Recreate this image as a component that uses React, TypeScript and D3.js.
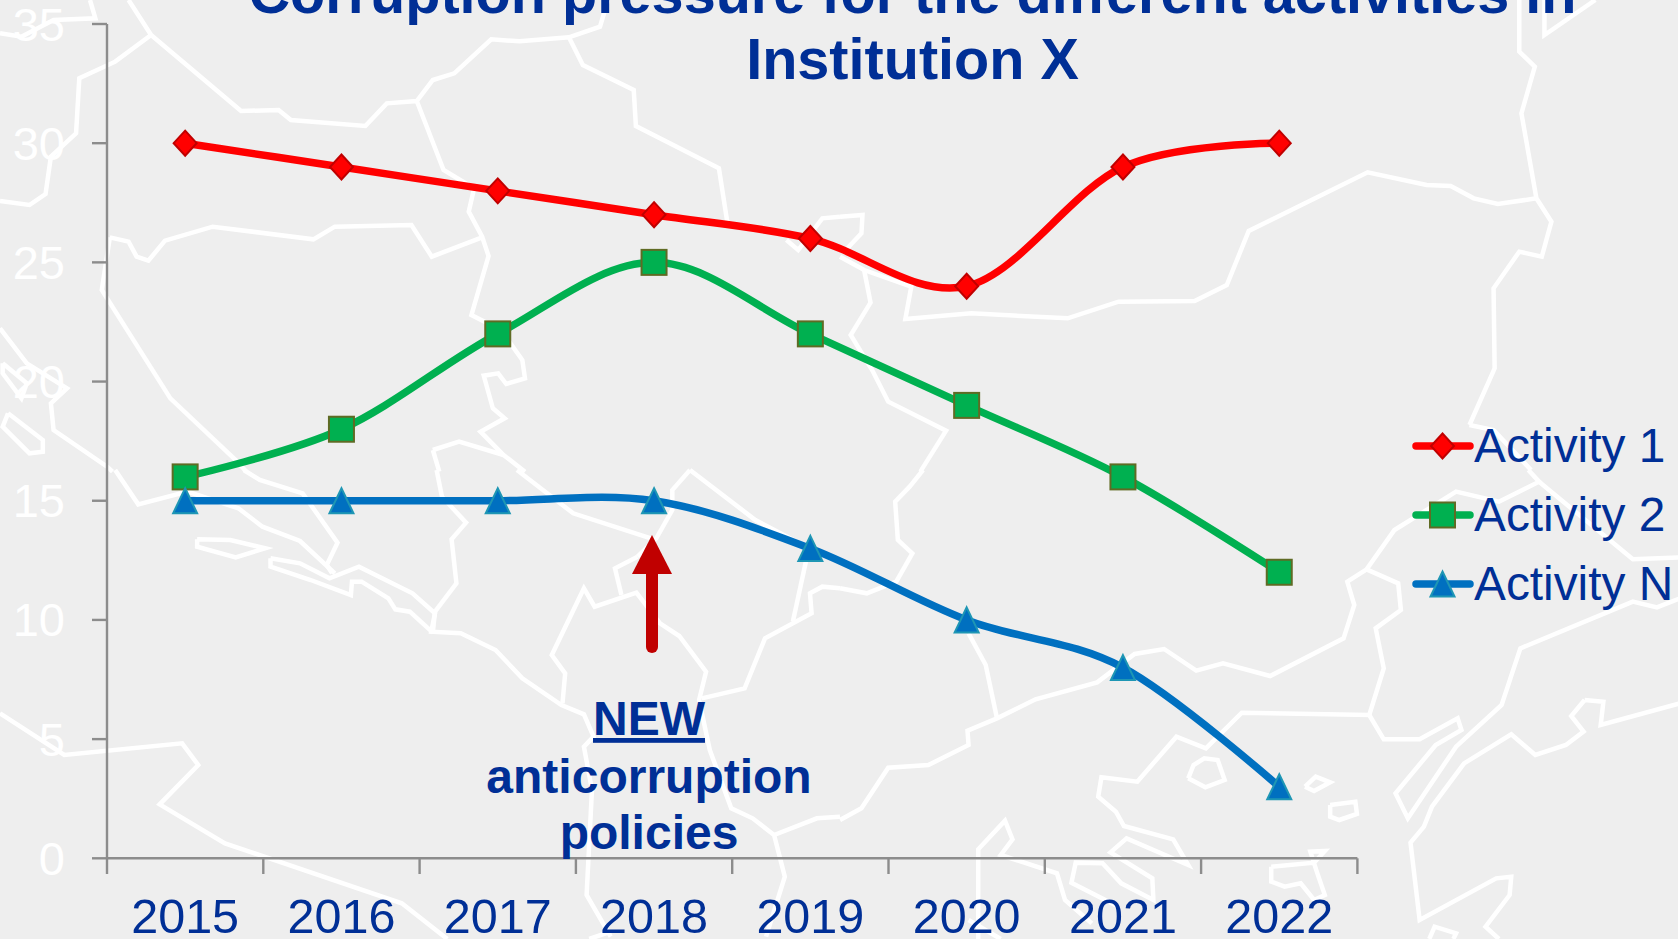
import React from "react";
import * as d3 from "d3";

const years = ["2015", "2016", "2017", "2018", "2019", "2020", "2021", "2022"];
const activity1 = [30, 29, 28, 27, 26, 24, 29, 30];
const activity2 = [16, 18, 22, 25, 22, 19, 16, 12];
const activityN = [15, 15, 15, 15, 13, 10, 8, 3];
const yTicks = [0, 5, 10, 15, 20, 25, 30, 35];
const titleLines = ["Corruption pressure for the different activities in", "Institution X"];
const noteLines = ["NEW", "anticorruption", "policies"];

type Pt = [number, number];
// Decorative map outlines, traced per image quadrant
const mapTopLeft: Pt[][] = [
  [[240,0],[282,105],[450,333],[520,330],[543,360],[682,378],[722,310],[778,303],[808,240],[848,220],[917,118],[970,124],[1062,112],[1120,80],[1135,0]],
  [[282,105],[215,185],[148,235],[142,400],[95,470],[85,582],[55,615],[0,603]],
  [[0,100],[40,110],[100,60],[178,55],[168,0]],
  [[778,303],[828,510],[885,565],[875,635],[900,710],[912,768],[880,945],[935,990],[975,1080],[980,1135],[945,1152],[930,1120],[903,1127],[920,1225],[942,1255],[897,1295],[940,1365],[980,1415]],
  [[808,1350],[857,1325],[940,1365]],
  [[808,1350],[820,1415]],
  [[1062,112],[1088,195],[1183,270],[1187,378],[1342,505],[1358,670]],
  [[1468,720],[1490,750],[1535,655],[1568,650]],
  [[205,712],[240,725],[255,770],[277,782],[308,722],[397,680],[585,718],[625,680],[768,675],[806,770],[900,712]],
  [[205,712],[190,870],[318,1195],[440,1380],[460,1415]],
  [[0,985],[50,1090],[125,1165],[95,1210],[100,1290],[200,1400],[210,1415]],
  [[5,1090],[50,1150],[40,1195],[5,1120],[5,1090]],
  [[15,1240],[80,1320],[80,1355],[55,1360],[5,1280],[15,1240]],
];
const mapTopRight: Pt[][] = [
  [[0,650],[42,645],[40,700],[5,760]],
  [[45,810],[57,908],[20,1005],[60,1110],[90,1205],[198,1292],[150,1415]],
  [[1175,1275],[1222,1105],[1220,865],[1268,755],[1310,770],[1328,665],[1300,595],[1272,340],[1297,200],[1268,155],[1268,0]],
  [[1175,1275],[1220,1290],[1290,1410]],
  [[1315,0],[1315,105],[1410,0]],
  [[1300,595],[1228,612],[1183,595],[1140,558],[1095,555],[985,517],[763,693],[722,855],[662,903],[520,905],[425,955],[245,940],[122,957],[133,860],[45,810],[0,770]],
];
const mapBottomLeft: Pt[][] = [
  [[455,0],[485,30],[565,70],[630,218],[610,285],[620,310]],
  [[215,0],[258,103],[350,65],[445,115],[490,170],[560,213],[625,310]],
  [[815,0],[825,80],[870,158],[843,208],[852,340],[812,425],[808,485]],
  [[965,0],[1070,130],[1215,205]],
  [[368,208],[430,210],[495,235],[440,262],[368,230],[368,208]],
  [[505,265],[560,280],[615,325],[670,290],[770,370],[812,430],[805,485],[860,490],[925,540],[975,625],[1048,705],[1090,733],[1108,800],[1090,830],[1105,960],[1095,1275],[1140,1400]],
  [[505,265],[505,290],[580,330],[655,375],[657,335],[675,335],[725,385],[738,418],[765,425],[808,488]],
  [[1050,700],[1055,610],[1030,555],[1090,355],[1110,410],[1188,368],[1232,460],[1268,498],[1318,605],[1305,690],[1325,840],[1365,1015],[1405,1045],[1445,1095],[1465,1220],[1430,1400]],
  [[1445,1095],[1525,1045],[1568,1040]],
  [[1160,375],[1148,295],[1190,260]],
  [[1288,0],[1255,60],[1255,120],[1225,205],[1190,260]],
  [[1288,0],[1410,150],[1510,235]],
  [[1310,685],[1390,655],[1428,505],[1515,430],[1512,370],[1535,350],[1568,355]],
  [[1480,455],[1505,270]],
  [[0,730],[120,855],[340,820],[370,885],[298,1003],[420,1120],[750,1300],[835,1407]],
  [[1100,1407],[1140,1385]],
];
const mapBottomRight: Pt[][] = [
  [[155,0],[130,50],[103,95],[108,210],[135,250],[105,335],[50,370],[0,355]],
  [[0,1050],[40,1015],[90,893],[165,885],[240,825],[238,782],[293,745],[365,688],[480,637],[550,552],[605,537],[665,602],[715,580],[803,618],[940,505],[960,405],[947,335],[983,298],[1035,180],[1150,65],[1230,95],[1305,35],[1285,0]],
  [[240,490],[272,585],[293,745]],
  [[983,298],[1042,340],[1047,420],[1000,475],[1015,595],[988,735],[750,728],[683,835],[628,800],[555,935],[488,922],[482,980],[515,1025],[530,1068],[622,1108],[650,1185],[535,1105],[505,1147],[583,1225],[585,1290],[525,1240],[490,1180],[440,1178],[432,1238],[520,1310]],
  [[988,735],[1015,808],[1082,808],[1153,745],[1160,780],[1112,825],[1037,970],[1060,1045],[1150,830],[1235,705],[1270,535],[1480,395],[1525,412],[1568,385]],
  [[1305,35],[1480,268],[1568,262]],
  [[650,925],[660,885],[680,865],[705,870],[718,930],[682,952],[650,925]],
  [[868,950],[888,920],[915,937],[885,963],[868,950]],
  [[915,1005],[962,995],[965,1032],[932,1050],[915,1040],[915,1005]],
  [[1390,690],[1425,695],[1420,765],[1568,700]],
  [[1390,690],[1365,738],[1388,785],[1355,825],[1298,855],[1253,793],[1165,880],[1105,1010],[1090,1070],[1065,1118],[1082,1350],[1225,1225],[1253,1220],[1250,1275],[1205,1370],[1230,1407]],
  [[1100,1407],[1110,1370],[1150,1390],[1145,1407]],
  [[258,1407],[258,1138],[308,1052],[322,1108],[300,1155],[405,1210],[420,1290],[470,1360]],
  [[805,1190],[885,1178],[905,1143],[878,1145],[890,1205],[905,1275],[885,1290],[860,1240],[830,1250],[805,1235],[805,1190]],
  [[240,1350],[300,1407]],
];

const WIDTH = 1678;
const HEIGHT = 939;
const TEXT = "#002F96";
const AXIS = "#8C8C8C";
const FONT = "'Liberation Sans', Arial, sans-serif";

const x = d3.scaleBand<string>().domain(years).range([107, 1357.4]);
const y = d3.scaleLinear().domain([0, 35]).range([858.3, 24]);
const lineGen = d3
  .line<number>()
  .x((_, i) => (x(years[i]) as number) + x.bandwidth() / 2)
  .y((v) => y(v))
  .curve(d3.curveCatmullRom.alpha(0));

const quad = (polys: Pt[][], ox: number, oy: number) =>
  polys.map((p) => d3.line()(p.map(([a, b]) => [ox + a / 1.8667, oy + b / 3] as Pt)) as string);

const mapPaths = [
  ...quad(mapTopLeft, 0, 0),
  ...quad(mapTopRight, 840, 0),
  ...quad(mapBottomLeft, 0, 470),
  ...quad(mapBottomRight, 840, 470),
];

type Kind = "diamond" | "square" | "triangle";
const seriesList: { name: string; values: number[]; color: string; stroke: string; kind: Kind }[] = [
  { name: "Activity 1", values: activity1, color: "#FF0000", stroke: "#C00000", kind: "diamond" },
  { name: "Activity 2", values: activity2, color: "#00B050", stroke: "#5F6B24", kind: "square" },
  { name: "Activity N", values: activityN, color: "#0070C0", stroke: "#1E96B4", kind: "triangle" },
];

function Marker({ kind, cx, cy, fill, stroke }: { kind: Kind; cx: number; cy: number; fill: string; stroke: string }) {
  const common = { fill, stroke, strokeWidth: 2 };
  if (kind === "square") return <rect x={cx - 12.5} y={cy - 12.5} width={25} height={25} {...common} />;
  if (kind === "diamond")
    return <polygon points={`${cx},${cy - 12.5} ${cx + 11.5},${cy} ${cx},${cy + 12.5} ${cx - 11.5},${cy}`} {...common} />;
  return <polygon points={`${cx},${cy - 12.5} ${cx + 12},${cy + 12.5} ${cx - 12},${cy + 12.5}`} {...common} />;
}

const legendY = [446, 515, 584];

export default function App() {
  const arrowX = 652;
  return (
    <svg
      width={WIDTH}
      height={HEIGHT}
      viewBox={`0 0 ${WIDTH} ${HEIGHT}`}
      style={{ position: "fixed", left: 0, top: 0, display: "block", fontFamily: FONT }}
    >
      <rect width={WIDTH} height={HEIGHT} fill="#EEEEEE" />
      {mapPaths.map((d, i) => (
        <path key={i} d={d} fill="none" stroke="#FFFFFF" strokeWidth={4.5} strokeLinejoin="miter" />
      ))}

      {/* Y axis */}
      <line x1={107} x2={107} y1={y(35)} y2={y(0)} stroke={AXIS} strokeWidth={2.4} />
      {yTicks.map((t) => (
        <g key={t}>
          <line x1={92} x2={107} y1={y(t)} y2={y(t)} stroke={AXIS} strokeWidth={2.4} />
          <text x={65} y={y(t) + 16.5} textAnchor="end" fontSize={47} fill="#FFFFFF">
            {t}
          </text>
        </g>
      ))}

      {/* X axis */}
      <line x1={107} x2={1357.4} y1={y(0)} y2={y(0)} stroke={AXIS} strokeWidth={2.4} />
      {[...years, null].map((yr, i) => {
        const px = yr ? (x(yr) as number) : 1357.4;
        return <line key={i} x1={px} x2={px} y1={y(0)} y2={874} stroke={AXIS} strokeWidth={2.4} />;
      })}
      {years.map((yr) => (
        <text key={yr} x={(x(yr) as number) + x.bandwidth() / 2} y={933} textAnchor="middle" fontSize={48.5} fill={TEXT}>
          {yr}
        </text>
      ))}

      {/* Title */}
      <text x={912.5} y={12.5} textAnchor="middle" fontSize={57.6} fontWeight="bold" fill={TEXT}>
        {titleLines[0]}
      </text>
      <text x={912.5} y={79} textAnchor="middle" fontSize={57.6} fontWeight="bold" fill={TEXT}>
        {titleLines[1]}
      </text>

      {/* Series */}
      {seriesList.map((s) => (
        <path key={s.name} d={lineGen(s.values) as string} fill="none" stroke={s.color} strokeWidth={7.5} strokeLinecap="round" />
      ))}
      {seriesList.map((s) =>
        s.values.map((v, i) => (
          <Marker
            key={s.name + i}
            kind={s.kind}
            cx={(x(years[i]) as number) + x.bandwidth() / 2}
            cy={y(v)}
            fill={s.color}
            stroke={s.stroke}
          />
        ))
      )}

      {/* Arrow annotation */}
      <line x1={arrowX} x2={arrowX} y1={570} y2={647} stroke="#C00000" strokeWidth={12} strokeLinecap="round" />
      <polygon points={`${arrowX},535 ${arrowX + 20},574 ${arrowX - 20},574`} fill="#C00000" />
      <text x={649} y={735} textAnchor="middle" fontSize={48} fontWeight="bold" fill={TEXT} textDecoration="underline">
        {noteLines[0]}
      </text>
      <text x={649} y={793} textAnchor="middle" fontSize={48} fontWeight="bold" fill={TEXT}>
        {noteLines[1]}
      </text>
      <text x={649} y={849} textAnchor="middle" fontSize={48} fontWeight="bold" fill={TEXT}>
        {noteLines[2]}
      </text>

      {/* Legend */}
      {seriesList.map((s, i) => (
        <g key={s.name}>
          <line x1={1416} x2={1470} y1={legendY[i]} y2={legendY[i]} stroke={s.color} strokeWidth={7.5} strokeLinecap="round" />
          <Marker kind={s.kind} cx={1442.5} cy={legendY[i]} fill={s.color} stroke={s.stroke} />
          <text x={1474} y={legendY[i] + 16} fontSize={47.8} fill={TEXT}>
            {s.name}
          </text>
        </g>
      ))}
    </svg>
  );
}
